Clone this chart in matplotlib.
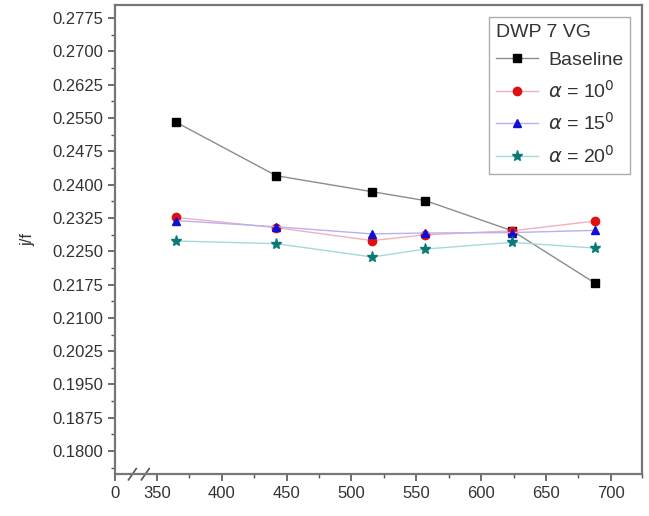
import matplotlib.pyplot as plt
from matplotlib.ticker import MultipleLocator, FixedLocator
import matplotlib.transforms as mtransforms

plt.rcParams["font.family"] = ["Liberation Sans", "DejaVu Sans"]

# x positions and j/f values
x_vals = [365, 442, 516, 557, 624, 688]

baseline = [0.2540, 0.2420, 0.2384, 0.2364, 0.2296, 0.2178]
alpha10 = [0.2326, 0.2303, 0.2274, 0.2287, 0.2296, 0.2318]
alpha15 = [0.2319, 0.2305, 0.2289, 0.2291, 0.2292, 0.2297]
alpha20 = [0.2273, 0.2267, 0.2237, 0.2255, 0.2270, 0.2257]

y_ticks = [0.1800, 0.1875, 0.1950, 0.2025, 0.2100, 0.2175, 0.2250,
           0.2325, 0.2400, 0.2475, 0.2550, 0.2625, 0.2700, 0.2775]
x_ticks = [350, 400, 450, 500, 550, 600, 650, 700]

x_min, x_max = 317.5, 724
y_min, y_max = 0.1748, 0.2804

fig = plt.figure(figsize=(6.49, 5.16), dpi=100)
ax = fig.add_axes([0.177, 0.081, 0.812, 0.909])

series = [
    (baseline, "Baseline", "s", "black", "#8c8c8c"),
    (alpha10, r"$\alpha$ = 10$^0$", "o", "#e01010", "#f0b0c0"),
    (alpha15, r"$\alpha$ = 15$^0$", "^", "#1010d0", "#b8b0f0"),
    (alpha20, r"$\alpha$ = 20$^0$", "*", "#0a7a78", "#a8d8d8"),
]
for vals, lab, mk, mc, lc in series:
    ax.plot(x_vals, vals, color=lc, linewidth=1.0, marker=mk,
            markersize=6 if mk != "*" else 8, markerfacecolor=mc,
            markeredgecolor=mc, label=lab)

ax.set_xlim(x_min, x_max)
ax.set_ylim(y_min, y_max)

ax.set_yticks(y_ticks)
ax.set_yticklabels([f"{t:.4f}" for t in y_ticks])
ax.yaxis.set_minor_locator(MultipleLocator(0.00375))
ax.xaxis.set_major_locator(FixedLocator([x_min] + x_ticks))
ax.set_xticklabels(["0"] + [str(t) for t in x_ticks])
ax.xaxis.set_minor_locator(FixedLocator([375, 425, 475, 525, 575, 625, 675, 724]))

ax.tick_params(axis="both", which="major", direction="out", length=5,
               width=1.2, color="#555555", labelsize=12, labelcolor="#333333")
ax.tick_params(axis="both", which="minor", direction="out", length=3,
               width=1.0, color="#555555")
for s in ax.spines.values():
    s.set_color("#777777")
    s.set_linewidth(1.6)

ax.set_ylabel("j/f", fontsize=12, color="#333333", labelpad=12)

# axis break marks
trans = mtransforms.blended_transform_factory(ax.transData, ax.transAxes)
for xb in (331, 341):
    ax.plot([xb - 3, xb + 3], [-0.012, 0.012], color="#555555",
            linewidth=1.2, transform=trans, clip_on=False)

leg = ax.legend(loc="upper right", title="DWP 7 VG", fontsize=14,
                title_fontsize=14, frameon=True, fancybox=False,
                edgecolor="#999999", borderaxespad=0.6, borderpad=0.35,
                handlelength=2.2, handletextpad=0.5, labelspacing=0.55)
leg._legend_box.align = "left"
for t in leg.get_texts():
    t.set_color("#333333")
leg.get_title().set_color("#333333")

fig.savefig("out.png", dpi=100)
